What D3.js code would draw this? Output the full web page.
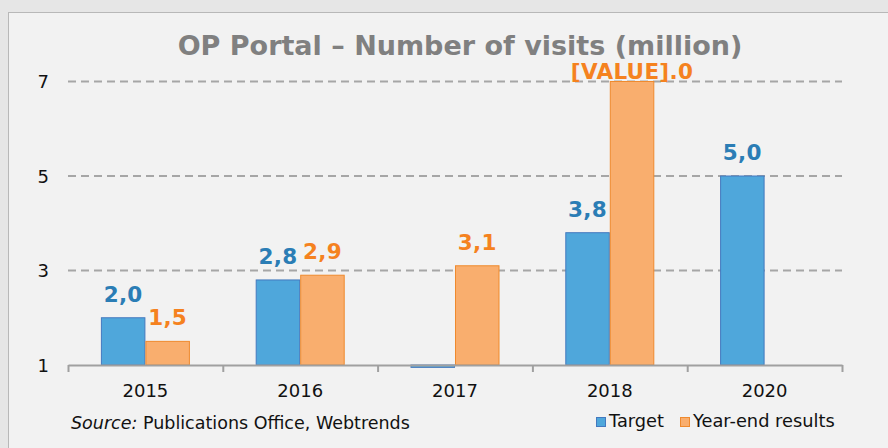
<!DOCTYPE html>
<html>
<head>
<meta charset="utf-8">
<script src="https://cdn.jsdelivr.net/npm/d3@7"></script>
<style>
  html, body { margin: 0; padding: 0; background: #e6e6e6; }
  svg { display: block; font-family: 'DejaVu Sans', Verdana, sans-serif; }
</style>
</head>
<body>
<svg></svg>
<script>
const years = ['2015', '2016', '2017', '2018', '2020']
const targetValues = [2.0, 2.8, 0.95, 3.8, 5.0]
const resultValues = [1.5, 2.9, 3.1, 7.0, null]
const targetLabels = ['2,0', '2,8', '', '3,8', '5,0']
const resultLabels = ['1,5', '2,9', '3,1', '[VALUE].0', '']
const yTicks = [1, 3, 5, 7]
const seriesNames = ['Target', 'Year-end results']

const drawChart = () => {
  const width = 888
  const height = 448
  const plotLeft = 68
  const plotRight = 842
  const plotTop = 64
  const blue = '#4fa7db'
  const blueStroke = '#4479bf'
  const blueText = '#2b7db5'
  const orange = '#f9ae6e'
  const orangeStroke = '#ef8a2e'
  const orangeText = '#f5821f'

  const svg = d3.select('svg')
                .attr('width', width)
                .attr('height', height)

  svg.append('rect')
     .attr('x', 8.5).attr('y', 12.5)
     .attr('width', width).attr('height', height)
     .attr('fill', '#f2f2f2')
     .attr('stroke', '#b8b8b8')

  const yScale = d3.scaleLinear()
                   .domain([1, 7])
                   .range([365, 81.5])

  const xScale = d3.scaleBand()
                   .domain(years)
                   .range([plotLeft, plotRight])
                   .paddingInner(0.425)
                   .paddingOuter(0.2125)

  const innerScale = d3.scaleBand()
                       .domain(['target', 'result'])
                       .range([0, xScale.bandwidth()])

  // title
  svg.append('text')
     .text('OP Portal \u2013 Number of visits (million)')
     .attr('x', 460)
     .attr('y', 55)
     .attr('text-anchor', 'middle')
     .attr('fill', '#808080')
     .style('font-weight', 'bold')
     .style('font-size', '27px')

  // grid
  svg.append('g')
     .selectAll('line')
     .data(yTicks.filter(d => d > 1))
     .join('line')
     .attr('x1', plotLeft).attr('x2', plotRight)
     .attr('y1', d => yScale(d)).attr('y2', d => yScale(d))
     .attr('stroke', '#a6a6a6')
     .attr('stroke-width', 2)
     .attr('stroke-dasharray', '8,5')

  // y axis labels
  const yAxis = d3.axisLeft(yScale).tickValues(yTicks).tickFormat(d3.format('d')).tickSize(0).tickPadding(0)
  const yG = svg.append('g')
                .attr('transform', `translate(49, 0)`)
                .call(yAxis)
  yG.select('.domain').remove()
  yG.selectAll('text')
    .style('font-size', '18px')
    .style('font-family', "'DejaVu Sans', Verdana, sans-serif")
    .attr('fill', '#111')
    .attr('dy', '0.36em')

  const rows = years.map((y, i) => ({ year: y, target: targetValues[i], result: resultValues[i], tLabel: targetLabels[i], rLabel: resultLabels[i] }))

  const groups = svg.append('g')
                    .selectAll('g')
                    .data(rows)
                    .join('g')
                    .attr('transform', d => `translate(${xScale(d.year)}, 0)`)

  const barRect = (sel, key, fill, stroke) => {
    sel.filter(d => d[key] != null)
       .append('rect')
       .attr('x', innerScale(key) + 0.5)
       .attr('width', innerScale.bandwidth() - 1)
       .attr('y', d => Math.min(yScale(d[key]), yScale(1)))
       .attr('height', d => Math.abs(yScale(1) - yScale(d[key])))
       .attr('fill', fill)
       .attr('stroke', stroke)
       .attr('stroke-width', 1)
  }
  barRect(groups, 'target', blue, blueStroke)
  barRect(groups, 'result', orange, orangeStroke)

  const barLabel = (sel, key, labelKey, color) => {
    sel.filter(d => d[labelKey])
       .append('text')
       .text(d => d[labelKey])
       .attr('x', innerScale(key) + innerScale.bandwidth() / 2)
       .attr('y', d => Math.max(yScale(d[key]) - 16, plotTop + 15))
       .attr('text-anchor', 'middle')
       .attr('fill', color)
       .style('font-weight', 'bold')
       .style('font-size', '21.5px')
       .style('letter-spacing', '0.3px')
  }
  barLabel(groups, 'target', 'tLabel', blueText)
  barLabel(groups, 'result', 'rLabel', orangeText)

  // x axis
  const edgeScale = d3.scaleLinear().domain([0, years.length]).range([plotLeft, plotRight])
  const tickAxis = d3.axisBottom(edgeScale)
                     .tickValues(d3.range(years.length + 1))
                     .tickFormat('')
                     .tickSize(7)
                     .tickSizeOuter(0)
  const xG = svg.append('g')
                .attr('transform', `translate(0, ${yScale(1)})`)
                .call(tickAxis)
  xG.selectAll('.domain, line').attr('stroke', '#a0a0a0').attr('stroke-width', 2)

  const labelAxis = d3.axisBottom(xScale).tickSize(0).tickPadding(0)
  const xL = svg.append('g')
                .attr('transform', `translate(0, 397)`)
                .call(labelAxis)
  xL.select('.domain').remove()
  xL.selectAll('text')
    .attr('dy', 0)
    .attr('fill', '#111')
    .style('font-size', '18px')
    .style('font-family', "'DejaVu Sans', Verdana, sans-serif")

  // source
  const src = svg.append('text')
                 .attr('x', 71)
                 .attr('y', 429)
                 .attr('fill', '#111')
                 .style('font-size', '17.5px')
  src.append('tspan').text('Source:').style('font-style', 'italic')
  src.append('tspan').text(' Publications Office, Webtrends')

  // legend
  const legendX = [596, 680]
  const legend = svg.append('g')
                    .selectAll('g')
                    .data(seriesNames)
                    .join('g')
                    .attr('transform', (d, i) => `translate(${legendX[i]}, 417)`)
  legend.append('rect')
        .attr('x', 0.5).attr('y', 0.5)
        .attr('width', 9).attr('height', 9)
        .attr('fill', (d, i) => i === 0 ? blue : orange)
        .attr('stroke', (d, i) => i === 0 ? blueStroke : orangeStroke)
  legend.append('text')
        .text(d => d)
        .attr('x', 13)
        .attr('y', 10)
        .attr('fill', '#111')
        .style('font-size', '17.8px')
}

drawChart()
</script>
</body>
</html>
